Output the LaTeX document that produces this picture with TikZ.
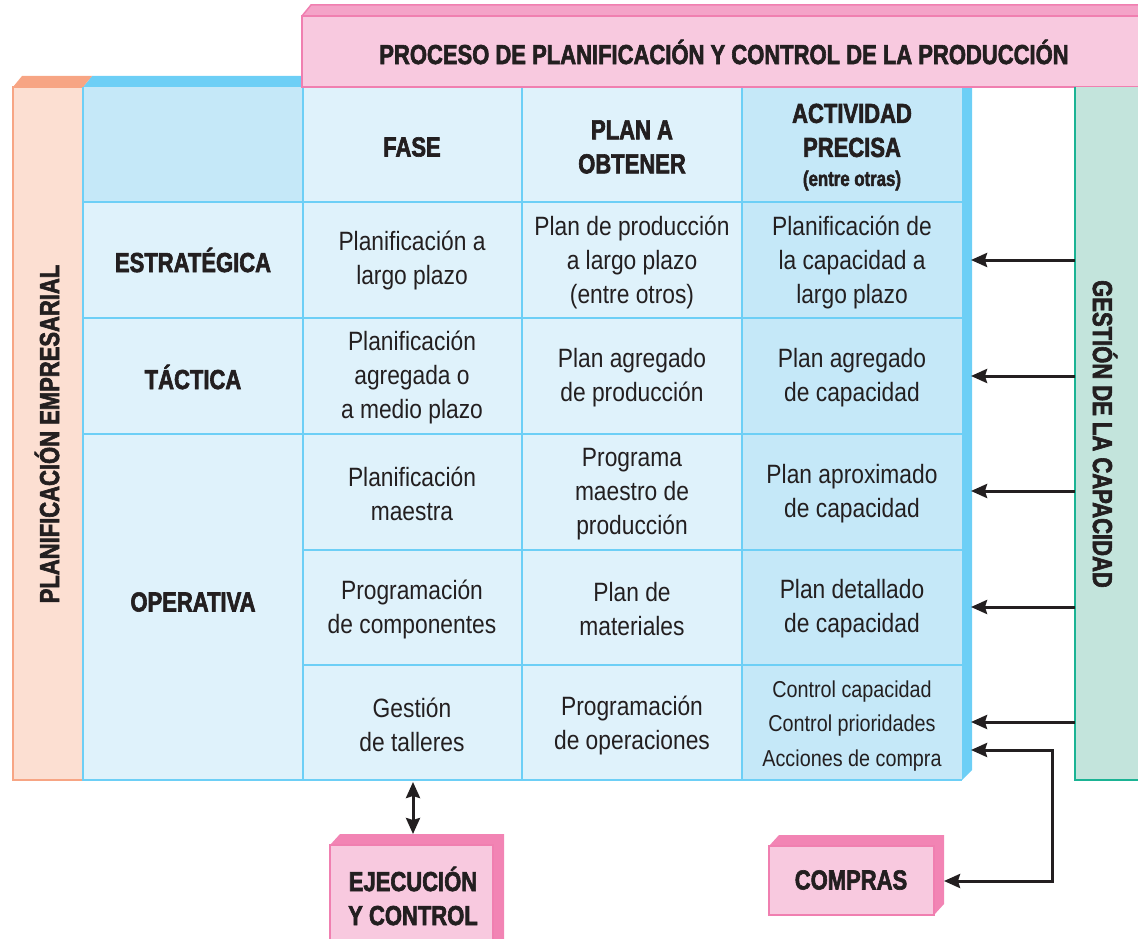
\documentclass[tikz,border=0pt]{standalone}
\usepackage{fontspec}
\setmainfont{Liberation Sans}[FakeStretch=0.86]
\newfontfamily\heavyfont{Liberation Sans}[FakeStretch=0.8, BoldFeatures={FakeBold=2.2}]
\usetikzlibrary{arrows.meta}
\definecolor{bluebar}{HTML}{6DCFF6}
\definecolor{cellpale}{HTML}{DFF2FB}
\definecolor{celldark}{HTML}{C5E8F8}
\definecolor{orangeedge}{HTML}{F7A584}
\definecolor{orangefill}{HTML}{FCDFD2}
\definecolor{pinkfill}{HTML}{F8C9DF}
\definecolor{pinkedge}{HTML}{F07FB0}
\definecolor{pinktop}{HTML}{F4A3C8}
\definecolor{pinkside}{HTML}{F284B4}
\definecolor{greenfill}{HTML}{C3E4DC}
\definecolor{greenedge}{HTML}{1BB394}
\definecolor{inkblack}{HTML}{231F20}
\tikzset{
  cell/.style={align=center, inner sep=0pt, text=inkblack, font=\fontsize{26.5}{34}\selectfont},
  smallcell/.style={align=center, inner sep=0pt, text=inkblack, font=\fontsize{23}{34.5}\selectfont},
  head/.style={align=center, inner sep=0pt, text=inkblack, font=\heavyfont\bfseries\fontsize{27.5}{34}\selectfont},
  gridline/.style={bluebar, line width=2pt},
  link/.style={inkblack, line width=3pt, -{Stealth[length=16pt,width=14pt,inset=2pt]}},
  twoway/.style={inkblack, line width=3pt, {Stealth[length=16pt,width=14pt,inset=2pt]}-{Stealth[length=16pt,width=14pt,inset=2pt]}},
}

\begin{document}
\begin{tikzpicture}[x=1pt,y=-1pt]
\useasboundingbox (0,0) rectangle (1138,939);

% blue top and right bar
\fill[bluebar] (83,87) -- (92,76) -- (972,76) -- (972,770) -- (962,780) -- (962,87) -- cycle;
% orange column
\fill[orangeedge] (13,87) -- (22,76) -- (92,76) -- (83,87) -- cycle;
\draw[orangeedge, fill=orangefill, line width=2pt] (13,87) rectangle (83,780);

% table
\fill[cellpale] (83,87) rectangle (962,780);
\fill[celldark] (83,87) rectangle (303,202);
\fill[celldark] (742,87) rectangle (962,780);
\draw[gridline] (83,87) -- (83,781);
\draw[gridline] (303,87) -- (303,780);
\draw[gridline] (522,87) -- (522,780);
\draw[gridline] (742,87) -- (742,780);
\draw[gridline] (83,202) -- (962,202);
\draw[gridline] (83,318) -- (962,318);
\draw[gridline] (83,434) -- (962,434);
\draw[gridline] (303,550) -- (962,550);
\draw[gridline] (303,665) -- (962,665);
\draw[gridline] (82,780) -- (962,780);

% header box
\fill[pinktop] (302,16) -- (311,5) -- (1138,5) -- (1138,16) -- cycle;
\draw[pinkedge, line width=1.5pt] (302,16) -- (311,5) -- (1138,5);
\draw[pinkedge, fill=pinkfill, line width=2pt] (1139,16) -- (302,16) -- (302,87) -- (1139,87);
\node[head] (proceso) at (724,52) {PROCESO DE PLANIFICACIÓN Y CONTROL DE LA PRODUCCIÓN};

% capacity box
\fill[greenfill] (1075,87) rectangle (1138,780);
\draw[greenedge, line width=2pt] (1075,87) -- (1075,780) -- (1138,780);
\node[head, rotate=-90] (capacidad) at (1105,434) {GESTIÓN DE LA CAPACIDAD};
\node[head, rotate=90] (empresarial) at (47,434) {PLANIFICACIÓN EMPRESARIAL};

% column heads
\node[head] (fase) at (412,147) {FASE};
\node[head] (plan) at (632,147) {PLAN A\\OBTENER};
\node[head] (actividad) at (852,147) {ACTIVIDAD\\PRECISA\\[-5pt]{\fontsize{21}{24}\selectfont(entre otras)}};

% row heads
\node[head] (estrategica) at (193,260) {ESTRATÉGICA};
\node[head] (tactica) at (193,377) {TÁCTICA};
\node[head] (operativa) at (193,602) {OPERATIVA};

% cells
\node[cell] (fase1) at (412,260) {Planificación a\\largo plazo};
\node[cell] (plan1) at (632,262) {Plan de producción\\a largo plazo\\(entre otros)};
\node[cell] (act1) at (852,262) {Planificación de\\la capacidad a\\largo plazo};
\node[cell] (fase2) at (412,377) {Planificación\\agregada o\\a medio plazo};
\node[cell] (plan2) at (632,378) {Plan agregado\\de producción};
\node[cell] (act2) at (852,378) {Plan agregado\\de capacidad};
\node[cell] (fase3) at (412,494) {Planificación\\maestra};
\node[cell] (plan3) at (632,494) {Programa\\maestro de\\producción};
\node[cell] (act3) at (852,494) {Plan aproximado\\de capacidad};
\node[cell] (fase4) at (412,609) {Programación\\de componentes};
\node[cell] (plan4) at (632,609) {Plan de\\materiales};
\node[cell] (act4) at (852,609) {Plan detallado\\de capacidad};
\node[cell] (fase5) at (412,725) {Gestión\\de talleres};
\node[cell] (plan5) at (632,725) {Programación\\de operaciones};
\node[smallcell] (act5) at (852,726) {Control capacidad\\Control prioridades\\Acciones de compra};

% ejecucion box
\fill[pinkside] (330,845) -- (340,834) -- (504,834) -- (504,945) -- (493,945) -- (493,845) -- cycle;
\draw[pinkedge, fill=pinkfill, line width=2pt] (330,945) -- (330,845) -- (493,845) -- (493,945);
\node[head] (ejecucion) at (413,896) {EJECUCIÓN\\Y CONTROL};

% compras box
\fill[pinkside] (769,846) -- (779,835) -- (944,835) -- (944,904) -- (934,915) -- (934,846) -- cycle;
\draw[pinkedge, fill=pinkfill, line width=2pt] (769,846) rectangle (934,915);
\node[head] (compras) at (851,880) {COMPRAS};

% arrows
\coordinate (g1) at (1075,260); \coordinate (b1) at (971,260);
\coordinate (g2) at (1075,376); \coordinate (b2) at (971,376);
\coordinate (g3) at (1075,491); \coordinate (b3) at (971,491);
\coordinate (g4) at (1075,607); \coordinate (b4) at (971,607);
\coordinate (g5) at (1075,722); \coordinate (b5) at (971,722);
\draw[link] (g1) -- (b1);
\draw[link] (g2) -- (b2);
\draw[link] (g3) -- (b3);
\draw[link] (g4) -- (b4);
\draw[link] (g5) -- (b5);
\coordinate (compra) at (971,750);
\coordinate (comprasin) at (944,881);
\draw[twoway] (compra) -| (1052,881) -- (comprasin);
\coordinate (tablefoot) at (413,782);
\coordinate (ejtop) at (413,834);
\draw[twoway] (tablefoot) -- (ejtop);
\end{tikzpicture}
\end{document}
